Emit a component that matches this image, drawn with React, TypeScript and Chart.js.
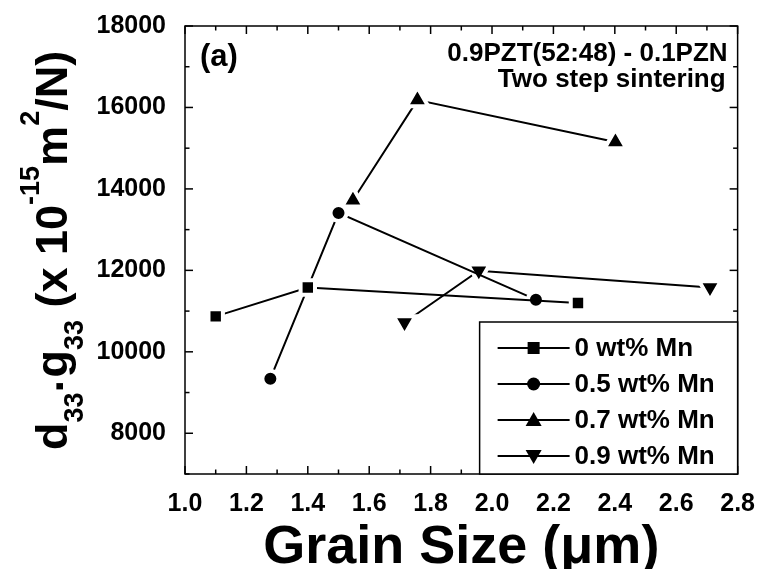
import React, { useEffect, useRef } from "react";
import { Chart, registerables } from "chart.js";

Chart.register(...registerables);

// ---- data ----
const seriesLabels = ["0 wt% Mn", "0.5 wt% Mn", "0.7 wt% Mn", "0.9 wt% Mn"];
const grainSize0 = [1.1, 1.4, 2.28];
const d33g33_0 = [10870, 11580, 11200];
const grainSize05 = [1.278, 1.5, 2.143];
const d33g33_05 = [9340, 13410, 11280];
const grainSize07 = [1.547, 1.757, 2.402];
const d33g33_07 = [13720, 16180, 15150];
const grainSize09 = [1.715, 1.957, 2.71];
const d33g33_09 = [10720, 11990, 11580];

const xTickValues = [1.0, 1.2, 1.4, 1.6, 1.8, 2.0, 2.2, 2.4, 2.6, 2.8];
const xMinorValues = [1.1, 1.3, 1.5, 1.7, 1.9, 2.1, 2.3, 2.5, 2.7];
const yTickValues = [8000, 10000, 12000, 14000, 16000, 18000];
const yMinorValues = [7000, 9000, 11000, 13000, 15000, 17000];

const panelLabel = "(a)";
const annotationLines = ["0.9PZT(52:48) - 0.1PZN", "Two step sintering"];
const xTitle = "Grain Size (\u03bcm)";
const yTitleParts = [
  { text: "d", kind: "main" },
  { text: "33", kind: "sub" },
  { text: "\u00b7", kind: "dot" },
  { text: "g", kind: "main" },
  { text: "33", kind: "sub" },
  { text: " (x 10", kind: "main" },
  { text: "-15", kind: "sup" },
  { text: "m", kind: "main" },
  { text: "2", kind: "sup" },
  { text: "/N)", kind: "main" },
];

const FONT = "'Liberation Sans', Arial, Helvetica, sans-serif";
const markerStyles = ["rect", "circle", "triangle", "triangle"];
const markerRotations = [0, 0, 0, 180];
const markerRadii = [10.2, 8, 12.5, 12.5];

function drawMarker(ctx: CanvasRenderingContext2D, kind: number, x: number, y: number) {
  ctx.beginPath();
  if (kind === 0) {
    ctx.rect(x - 6, y - 6, 12, 12);
  } else if (kind === 1) {
    ctx.arc(x, y, 6.5, 0, Math.PI * 2);
  } else if (kind === 2) {
    ctx.moveTo(x, y - 8);
    ctx.lineTo(x + 8, y + 6);
    ctx.lineTo(x - 8, y + 6);
    ctx.closePath();
  } else {
    ctx.moveTo(x, y + 8);
    ctx.lineTo(x + 8, y - 6);
    ctx.lineTo(x - 8, y - 6);
    ctx.closePath();
  }
  ctx.fill();
}

const decorPlugin = {
  id: "decor",
  afterDraw(chart: any) {
    const { ctx, chartArea: a, scales } = chart;
    const xs = scales.x;
    const ys = scales.y;
    ctx.save();
    ctx.strokeStyle = "#000";
    ctx.fillStyle = "#000";
    ctx.lineWidth = 1.5;
    ctx.strokeRect(a.left, a.top, a.right - a.left, a.bottom - a.top);
    const seg = (x1: number, y1: number, x2: number, y2: number) => {
      ctx.beginPath();
      ctx.moveTo(x1, y1);
      ctx.lineTo(x2, y2);
      ctx.stroke();
    };
    const MAJ = 8;
    const MIN = 4.5;
    for (const v of xTickValues) {
      const p = xs.getPixelForValue(v);
      seg(p, a.bottom, p, a.bottom - MAJ);
      seg(p, a.top, p, a.top + MAJ);
    }
    for (const v of xMinorValues) {
      const p = xs.getPixelForValue(v);
      seg(p, a.bottom, p, a.bottom - MIN);
      seg(p, a.top, p, a.top + MIN);
    }
    for (const v of yTickValues) {
      const p = ys.getPixelForValue(v);
      seg(a.left, p, a.left + MAJ, p);
      seg(a.right, p, a.right - MAJ, p);
    }
    for (const v of yMinorValues) {
      const p = ys.getPixelForValue(v);
      seg(a.left, p, a.left + MIN, p);
      seg(a.right, p, a.right - MIN, p);
    }

    // legend
    const bw = 258;
    const bh = 152;
    const bx = a.right - bw;
    const by = a.bottom - bh;
    ctx.fillStyle = "#fff";
    ctx.fillRect(bx, by, bw, bh);
    ctx.strokeRect(bx, by, bw, bh);
    ctx.fillStyle = "#000";
    ctx.font = `bold 26px ${FONT}`;
    ctx.textAlign = "left";
    ctx.textBaseline = "middle";
    const rowOffsets = [26, 62, 98, 134];
    seriesLabels.forEach((lab, i) => {
      const cy = by + rowOffsets[i];
      ctx.lineWidth = 2;
      seg(bx + 18, cy, bx + 90, cy);
      drawMarker(ctx, i, bx + 54, cy);
      ctx.fillText(lab, bx + 95, cy + 1);
    });

    // annotations
    ctx.textBaseline = "alphabetic";
    ctx.font = `bold 31px ${FONT}`;
    ctx.textAlign = "left";
    ctx.fillText(panelLabel, a.left + 15, 66);
    ctx.font = `bold 26px ${FONT}`;
    ctx.textAlign = "right";
    ctx.fillText(annotationLines[0], a.right - 10, 61);
    ctx.fillText(annotationLines[1], a.right - 12, 87);

    // x title
    ctx.font = `bold 54px ${FONT}`;
    ctx.textAlign = "center";
    ctx.fillText(xTitle, (a.left + a.right) / 2, 563);

    // y title
    ctx.save();
    ctx.translate(67, 450);
    ctx.rotate(-Math.PI / 2);
    ctx.textAlign = "left";
    let cx = 0;
    for (const part of yTitleParts) {
      let size = 45;
      let off = 0;
      if (part.kind === "sub") {
        size = 27;
        off = 16;
      } else if (part.kind === "sup") {
        size = 27;
        off = -28;
      } else if (part.kind === "dot") {
        off = 8;
      }
      ctx.font = `bold ${size}px ${FONT}`;
      ctx.fillText(part.text, cx, off);
      cx += ctx.measureText(part.text).width;
    }
    ctx.restore();
    ctx.restore();
  },
};

export default function App() {
  const canvasRef = useRef<HTMLCanvasElement | null>(null);

  useEffect(() => {
    if (!canvasRef.current) return;
    const xsAll = [grainSize0, grainSize05, grainSize07, grainSize09];
    const ysAll = [d33g33_0, d33g33_05, d33g33_07, d33g33_09];
    const datasets = seriesLabels.map((label, i) => ({
      label,
      data: xsAll[i].map((x, j) => ({ x, y: ysAll[i][j] })),
      showLine: true,
      borderColor: "#000",
      borderWidth: 2,
      pointStyle: markerStyles[i],
      pointRotation: markerRotations[i],
      pointRadius: markerRadii[i],
      pointHoverRadius: markerRadii[i],
      pointBackgroundColor: "#000",
      pointBorderColor: "#fff",
      pointBorderWidth: 4,
    }));
    const tickFont = { family: FONT, size: 25, weight: "bold" as const };
    const chart = new Chart(canvasRef.current, {
      type: "scatter",
      data: { datasets },
      options: {
        animation: false,
        responsive: false,
        devicePixelRatio: 1,
        layout: { padding: { top: 24, right: 22, left: 0, bottom: 0 } },
        plugins: { legend: { display: false }, tooltip: { enabled: false } },
        scales: {
          x: {
            type: "linear",
            min: 1.0,
            max: 2.8,
            afterBuildTicks: (s: any) => {
              s.ticks = xTickValues.map((v) => ({ value: v }));
            },
            afterFit: (s: any) => {
              s.height = 95;
            },
            grid: { display: false },
            border: { display: false },
            ticks: {
              font: tickFont,
              color: "#000",
              padding: 7,
              maxRotation: 0,
              autoSkip: false,
              callback: (v: any) => Number(v).toFixed(1),
            },
          },
          y: {
            type: "linear",
            min: 7000,
            max: 18000,
            afterBuildTicks: (s: any) => {
              s.ticks = yTickValues.map((v) => ({ value: v }));
            },
            afterFit: (s: any) => {
              s.width = 185;
            },
            grid: { display: false },
            border: { display: false },
            ticks: {
              font: tickFont,
              color: "#000",
              padding: 11,
              autoSkip: false,
              callback: (v: any) => String(v),
            },
          },
        },
      },
      plugins: [decorPlugin],
    });
    return () => chart.destroy();
  }, []);

  return (
    <div style={{ position: "fixed", left: 0, top: 0, width: 762, height: 569, background: "#fff" }}>
      <canvas ref={canvasRef} width={762} height={569} style={{ width: 762, height: 569, display: "block" }} />
    </div>
  );
}
